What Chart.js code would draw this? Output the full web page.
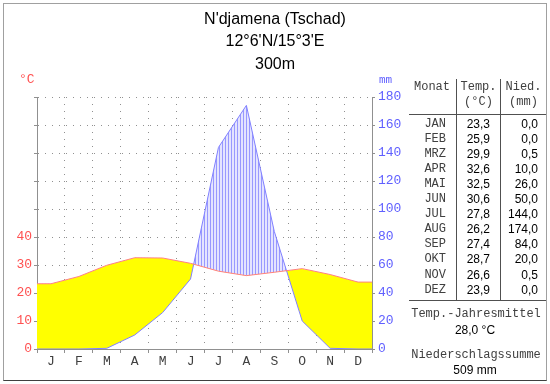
<!DOCTYPE html>
<html>
<head>
<meta charset="utf-8">
<script src="https://cdn.jsdelivr.net/npm/chart.js@4.4.0/dist/chart.umd.min.js"></script>
<style>
  body { margin: 0; background: #fff; }
  #wrap { position: relative; width: 550px; height: 384px; background: #fff; overflow: hidden; }
  #klima { position: absolute; left: 0; top: 0; }
  .t { position: absolute; white-space: nowrap; }
  .ln { position: absolute; background: #505050; }
  #frame {
    position: absolute; left: 3px; top: 3px; width: 544px; height: 378px; box-sizing: border-box;
    border: 1px solid #a0a0a0; border-bottom-color: #404040;
  }
</style>
</head>
<body>
<div id="wrap">
  <canvas id="klima" width="550" height="384"></canvas>
  <div id="frame"></div>
</div>
<script>
const months = ['J', 'F', 'M', 'A', 'M', 'J', 'J', 'A', 'S', 'O', 'N', 'D'];
const monthNames = ['JAN', 'FEB', 'MRZ', 'APR', 'MAI', 'JUN', 'JUL', 'AUG', 'SEP', 'OKT', 'NOV', 'DEZ'];
const temperature = [23.3, 25.9, 29.9, 32.6, 32.5, 30.6, 27.8, 26.2, 27.4, 28.7, 26.6, 23.9];
const precipitation = [0.0, 0.0, 0.5, 10.0, 26.0, 50.0, 144.0, 174.0, 84.0, 20.0, 0.5, 0.0];
const tempLabels = [0, 10, 20, 30, 40];
const precipLabels = [0, 20, 40, 60, 80, 100, 120, 140, 160, 180];
const titleLines = ["N'djamena (Tschad)", "12°6'N/15°3'E", '300m'];
const annualMean = '28,0 °C';
const annualSum = '509 mm';

const MONO = "'Liberation Mono', 'Courier New', monospace";
const SANS = "'Liberation Sans', Arial, sans-serif";
const GRID = '#909090';

const wrap = document.getElementById('wrap');

// kleiner Helfer: Text an (x, y-Mitte) setzen
function addText(txt, x, y, size, family, color, align) {
  const d = document.createElement('div');
  const lh = Math.round(size * 1.2);
  d.className = 't';
  d.textContent = txt;
  d.style.font = size + 'px ' + family;
  d.style.lineHeight = lh + 'px';
  d.style.color = color;
  d.style.top = (y - lh / 2) + 'px';
  if (align === 'right') d.style.right = (550 - x) + 'px';
  else d.style.left = x + 'px';
  if (align === 'center') d.style.transform = 'translateX(-50%)';
  wrap.appendChild(d);
}

function addLine(x, y, w, h) {
  const d = document.createElement('div');
  d.className = 'ln';
  d.style.left = x + 'px';
  d.style.top = y + 'px';
  d.style.width = w + 'px';
  d.style.height = h + 'px';
  wrap.appendChild(d);
}

// Titel
titleLines.forEach((s, i) => addText(s, 275, 18 + i * 22.5, 16, SANS, '#000', 'center'));

// Achsen-Einheiten
addText('°C', 19, 80, 13, MONO, '#ff5050', 'left');
addText('mm', 379, 80, 11, MONO, '#6060ff', 'left');

// Tabelle rechts
addText('Monat', 414, 87, 12, MONO, '#404040', 'left');
addText('Temp.', 478.5, 87, 12, MONO, '#404040', 'center');
addText('Nied.', 523.5, 87, 12, MONO, '#404040', 'center');
addText('(°C)', 478.5, 102, 12, MONO, '#404040', 'center');
addText('(mm)', 523.5, 102, 12, MONO, '#404040', 'center');
addLine(456, 79, 1, 222);
addLine(500, 79, 1, 222);
addLine(409, 114, 137, 1);
addLine(409, 300, 137, 1);

const fmt = v => v.toFixed(1).replace('.', ',');
monthNames.forEach((m, i) => {
  const y = 124 + i * 15.05;
  addText(m, 446, y, 12, MONO, '#404040', 'right');
  addText(fmt(temperature[i]), 490, y, 12, SANS, '#000', 'right');
  addText(fmt(precipitation[i]), 538, y, 12, SANS, '#000', 'right');
});

addText('Temp.-Jahresmittel', 476, 314, 12, MONO, '#404040', 'center');
addText(annualMean, 475, 330, 12, SANS, '#000', 'center');
addText('Niederschlagssumme', 476, 355, 12, MONO, '#404040', 'center');
addText(annualSum, 475, 370, 12, SANS, '#000', 'center');

// Schraffur für humide Zeit (senkrechte Linien)
function makeHatch() {
  const c = document.createElement('canvas');
  c.width = 3; c.height = 1;
  const g = c.getContext('2d');
  g.fillStyle = '#e4e4ff';
  g.fillRect(0, 0, 3, 1);
  g.fillStyle = '#9898ff';
  g.fillRect(0, 0, 1, 1);
  return g.createPattern(c, 'repeat');
}

// Kurve an beiden Rändern waagerecht bis zur Achse weiterführen
function monthPoints(values) {
  const pts = values.map((v, i) => ({ x: i + 0.5, y: v }));
  return [{ x: 0, y: values[0] }, ...pts, { x: 12, y: values[values.length - 1] }];
}

const ctx = document.getElementById('klima').getContext('2d');

new Chart(ctx, {
  type: 'line',
  data: {
    datasets: [{
      label: 'Temperatur',
      data: monthPoints(temperature),
      yAxisID: 'y',
      borderColor: '#ff8080',
      borderWidth: 1,
      pointRadius: 0,
      fill: false
    }, {
      label: 'Niederschlag',
      data: monthPoints(precipitation),
      yAxisID: 'y2',
      borderColor: '#8080ff',
      borderWidth: 1,
      pointRadius: 0,
      fill: { target: 0, above: makeHatch(), below: '#ffff00' }
    }]
  },
  options: {
    responsive: false,
    animation: false,
    layout: { padding: { left: 0, top: 97, right: 148, bottom: 0 } },
    plugins: { legend: { display: false }, tooltip: { enabled: false } },
    scales: {
      x: {
        type: 'linear',
        min: 0,
        max: 12,
        z: 1,
        afterBuildTicks: s => {
          const t = [];
          for (let i = 0; i <= 24; i++) t.push({ value: i / 2 });
          s.ticks = t;
        },
        afterFit: s => { s.height = 35; },
        ticks: {
          autoSkip: false,
          maxRotation: 0,
          padding: 1,
          color: '#404040',
          font: { family: MONO, size: 13 },
          callback: v => Number.isInteger(v) ? '' : months[Math.floor(v)]
        },
        grid: {
          tickLength: 4,
          color: c => (c.tick && Number.isInteger(c.tick.value) && c.tick.value > 0 && c.tick.value < 12) ? GRID : 'transparent',
          tickColor: c => (c.tick && Number.isInteger(c.tick.value)) ? GRID : 'transparent'
        },
        border: { color: GRID, dash: [1, 6] }
      },
      y: {
        position: 'left',
        min: 0,
        max: 90,
        z: 1,
        afterFit: s => { s.width = 37; },
        ticks: {
          stepSize: 10,
          padding: 2,
          color: '#ff5050',
          font: { family: MONO, size: 13 },
          callback: v => tempLabels.includes(v) ? v : ''
        },
        grid: {
          tickLength: 3,
          color: c => (c.tick && c.tick.value > 0) ? GRID : 'transparent',
          tickColor: GRID
        },
        border: { color: GRID, dash: [1, 6] }
      },
      y2: {
        position: 'right',
        min: 0,
        max: 180,
        z: 1,
        afterFit: s => { s.width = 30; },
        ticks: {
          stepSize: 20,
          padding: 3,
          color: '#6060ff',
          font: { family: MONO, size: 13 },
          callback: v => precipLabels.includes(v) ? v : ''
        },
        grid: { drawOnChartArea: false, tickLength: 3, tickColor: GRID },
        border: { color: GRID }
      }
    }
  }
});
</script>
</body>
</html>
